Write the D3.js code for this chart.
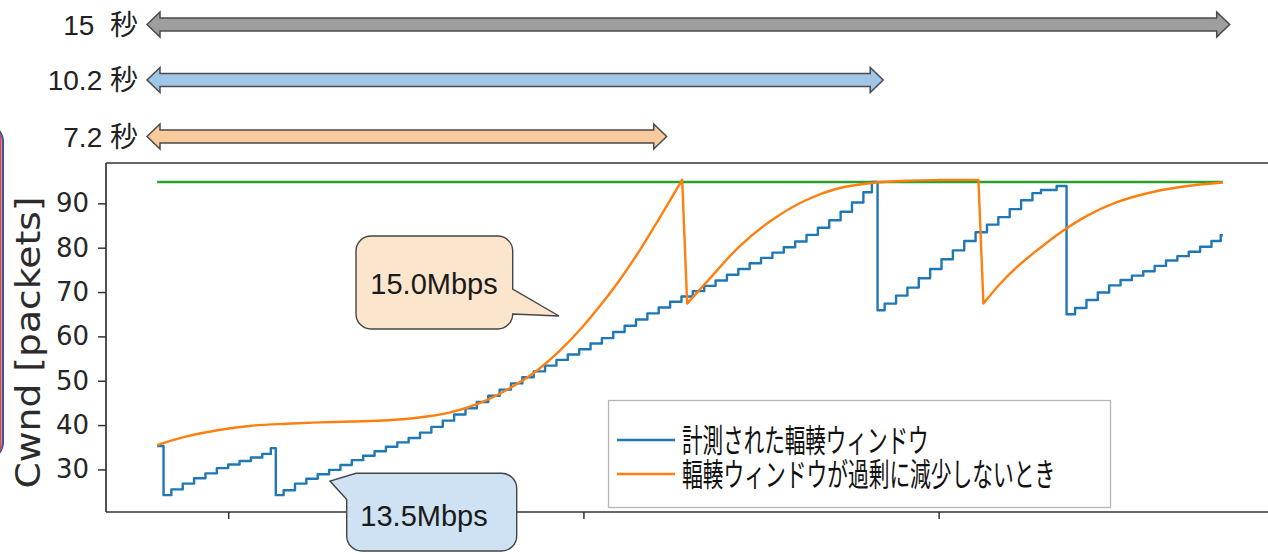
<!DOCTYPE html>
<html>
<head>
<meta charset="utf-8">
<script src="https://cdn.jsdelivr.net/npm/d3@7"></script>
<style>
  html, body { margin: 0; padding: 0; background: #fff; }
  svg { display: block; }
  text { white-space: pre; }
</style>
</head>
<body>
<svg id="chart" width="1268" height="554"></svg>
<script>
// ---- data ----------------------------------------------------------
// Span annotations above the plot (seconds)
const spanLabels  = ["15  秒", "10.2 秒", "7.2 秒"];
const spanSeconds = [15, 10.2, 7.2];

// Axis ticks
const yTicks = [30, 40, 50, 60, 70, 80, 90];
const xTicks = [5, 10, 15];

// Legend entries
const legendLabels = ["計測された輻輳ウィンドウ", "輻輳ウィンドウが過剰に減少しないとき"];

// Callout texts
const calloutTexts = ["15.0Mbps", "13.5Mbps"];

// Measured congestion window: [time s, cwnd packets], one pair per step
const measuredCwnd = [
  [4.00, 35.3], [4.09, 24.2], [4.20, 25.5], [4.36, 26.8], [4.52, 28.0], [4.68, 29.1],
  [4.84, 30.3], [5.00, 31.1], [5.16, 31.9], [5.32, 32.7], [5.48, 33.5], [5.60, 34.8],
  [5.67, 24.2], [5.78, 25.3], [5.94, 26.8], [6.10, 27.9], [6.26, 28.9], [6.42, 29.9],
  [6.58, 31.0], [6.74, 32.1], [6.90, 33.1], [7.06, 34.1], [7.22, 35.1], [7.38, 36.1],
  [7.54, 37.1], [7.70, 38.3], [7.86, 39.6], [8.02, 41.0], [8.18, 42.4], [8.34, 43.8],
  [8.50, 45.2], [8.66, 46.6], [8.82, 48.0], [8.98, 49.4], [9.14, 50.8], [9.30, 52.1],
  [9.46, 53.4], [9.62, 54.7], [9.78, 55.9], [9.94, 57.1], [10.10, 58.4], [10.26, 59.6],
  [10.42, 61.0], [10.58, 62.4], [10.74, 63.8], [10.90, 65.2], [11.06, 66.5], [11.22, 67.8],
  [11.38, 69.0], [11.54, 70.2], [11.70, 71.4], [11.86, 72.6], [12.02, 73.9], [12.18, 75.2],
  [12.34, 76.5], [12.50, 77.7], [12.66, 78.9], [12.82, 80.1], [12.98, 81.4], [13.14, 82.9],
  [13.30, 84.5], [13.46, 86.2], [13.62, 88.1], [13.78, 90.2], [13.94, 92.5], [14.06, 94.8],
  [14.14, 65.9], [14.24, 67.4], [14.40, 69.2], [14.56, 71.0], [14.72, 73.1], [14.88, 75.2],
  [15.04, 77.4], [15.20, 79.4], [15.36, 81.5], [15.52, 83.5], [15.68, 85.2], [15.84, 86.9],
  [16.00, 88.7], [16.16, 90.7], [16.32, 92.3], [16.44, 93.0], [16.66, 93.9],
  [16.80, 65.0], [16.92, 66.4], [17.08, 68.2], [17.24, 69.9], [17.40, 71.5], [17.56, 72.7],
  [17.72, 73.7], [17.88, 74.7], [18.04, 75.9], [18.20, 77.1], [18.36, 78.1], [18.52, 79.1],
  [18.68, 80.2], [18.84, 81.5], [18.97, 82.8], [19.00, 82.8]
];

// Window without excessive reduction: [time s, cwnd packets]
const idealCwnd = [
  [4.00, 35.5], [4.40, 37.4], [4.87, 38.9], [5.30, 39.8], [5.82, 40.3], [6.28, 40.6],
  [6.74, 40.8], [7.26, 41.1], [7.69, 41.7], [8.11, 42.8], [8.53, 44.9], [8.95, 48.2],
  [9.37, 52.6], [9.65, 56.5], [9.98, 62.0], [10.22, 66.6], [10.50, 72.5], [10.78, 79.1],
  [11.06, 86.4], [11.39, 95.3],
  [11.46, 67.4], [11.72, 72.0], [12.19, 80.2], [12.65, 86.2], [13.13, 90.7], [13.59, 93.4],
  [14.06, 94.6], [14.53, 95.1], [15.00, 95.25], [15.56, 95.3],
  [15.63, 67.4], [15.85, 71.6], [16.10, 75.6], [16.40, 79.6], [16.73, 83.6], [17.10, 87.3],
  [17.50, 90.2], [18.00, 92.5], [18.50, 93.9], [19.00, 94.7]
];

// Link capacity (packets)
const capacityCwnd = [[4.00, 94.8], [19.00, 94.8]];

// ---- drawing -------------------------------------------------------
const svg = d3.select("#chart");
svg.append("rect").attr("width", 1268).attr("height", 554).attr("fill", "#fff");

const plot = { left: 106, top: 163, bottom: 512, right: 1274 };
const x = d3.scaleLinear().domain([3.28, 19.72]).range([plot.left, plot.right]);
const y = d3.scaleLinear().domain([20.4, 99.1]).range([plot.bottom, plot.top]);

const axisColor = "#333";
const tickFont = "'DejaVu Sans', sans-serif";

// Edge of a neighbouring shape on the left margin
svg.append("rect")
  .attr("x", -200).attr("y", 124).attr("width", 203).attr("height", 336)
  .attr("rx", 18).attr("fill", "none")
  .attr("stroke", "#3355a0").attr("stroke-width", 2);
svg.append("line")
  .attr("x1", 0.8).attr("x2", 0.8).attr("y1", 135).attr("y2", 450)
  .attr("stroke", "#d94848").attr("stroke-width", 1.6);

// Span arrows
const spanScale = d3.scaleLinear().domain([0, 15]).range([147, 147 + 15 * 72.18]);
const spanStyles = [
  { fill: "#9e9e9e", cy: 24.5 },
  { fill: "#9fc5e8", cy: 80 },
  { fill: "#f9cb9c", cy: 136.5 }
];
function doubleArrow(x0, x1, cy) {
  const hl = 13, hh = 12.5, sh = 6.5;
  return `M${x0},${cy} L${x0 + hl},${cy - hh} L${x0 + hl},${cy - sh} L${x1 - hl},${cy - sh}` +
         ` L${x1 - hl},${cy - hh} L${x1},${cy} L${x1 - hl},${cy + hh} L${x1 - hl},${cy + sh}` +
         ` L${x0 + hl},${cy + sh} L${x0 + hl},${cy + hh} Z`;
}
const spans = svg.append("g");
spanSeconds.forEach((s, i) => {
  const st = spanStyles[i];
  spans.append("path")
    .attr("d", doubleArrow(spanScale(0), spanScale(s), st.cy))
    .attr("fill", st.fill).attr("stroke", "#4a4a4a").attr("stroke-width", 1.5)
    .attr("stroke-linejoin", "miter");
  spans.append("text")
    .attr("x", 138).attr("y", st.cy + 10)
    .attr("text-anchor", "end")
    .attr("font-family", "'Liberation Sans', Arial, 'Noto Sans CJK JP', sans-serif")
    .attr("font-size", 28).attr("fill", "#222")
    .text(spanLabels[i]);
});

// Spines
const spines = svg.append("g").attr("stroke", axisColor).attr("stroke-width", 1.7).attr("fill", "none");
spines.append("line").attr("x1", plot.left).attr("x2", plot.left).attr("y1", plot.top).attr("y2", plot.bottom);
spines.append("line").attr("x1", plot.left).attr("x2", 1268).attr("y1", plot.top).attr("y2", plot.top);
spines.append("line").attr("x1", plot.left).attr("x2", 1268).attr("y1", plot.bottom).attr("y2", plot.bottom);

// Y axis
const yAxis = svg.append("g")
  .attr("transform", `translate(${plot.left},0)`)
  .call(d3.axisLeft(y).tickValues(yTicks).tickSize(8).tickPadding(9).tickFormat(d3.format("d")));
yAxis.select(".domain").remove();
yAxis.selectAll(".tick line").attr("stroke", axisColor).attr("stroke-width", 1.5);
yAxis.selectAll(".tick text")
  .attr("font-family", tickFont).attr("font-size", 26).attr("fill", "#262626");

// X axis (ticks only)
const xAxis = svg.append("g")
  .attr("transform", `translate(0,${plot.bottom})`)
  .call(d3.axisBottom(x).tickValues(xTicks).tickSize(7).tickFormat(""));
xAxis.select(".domain").remove();
xAxis.selectAll(".tick line").attr("stroke", axisColor).attr("stroke-width", 1.5);

// Y axis title
svg.append("text")
  .attr("transform", "translate(40,342.5) rotate(-90)")
  .attr("text-anchor", "middle")
  .attr("font-family", tickFont).attr("font-size", 33).attr("fill", "#2b2b2b")
  .attr("textLength", 292).attr("lengthAdjust", "spacingAndGlyphs")
  .text("Cwnd [packets]");

// Series
const line = d3.line().x(d => x(d[0])).y(d => y(d[1]));
svg.append("path").datum(capacityCwnd)
  .attr("d", line).attr("fill", "none").attr("stroke", "#2ca02c").attr("stroke-width", 2.4);
svg.append("path").datum(measuredCwnd)
  .attr("d", d3.line().x(d => x(d[0])).y(d => y(d[1])).curve(d3.curveStepAfter)).attr("fill", "none")
  .attr("stroke", "#1f77b4").attr("stroke-width", 2.4).attr("stroke-linejoin", "round");

// Smooth growth pieces joined by straight reductions
const smooth = d3.line().x(d => x(d[0])).y(d => y(d[1])).curve(d3.curveMonotoneX);
const pieces = [];
idealCwnd.forEach((d, i) => {
  if (i === 0 || d[1] < idealCwnd[i - 1][1] - 10) pieces.push([]);
  pieces[pieces.length - 1].push(d);
});
const idealPath = pieces.map((p, i) => {
  const s = smooth(p);
  return i === 0 ? s : "L" + s.slice(1);
}).join("");
svg.append("path")
  .attr("d", idealPath).attr("fill", "none")
  .attr("stroke", "#ff7f0e").attr("stroke-width", 2.4).attr("stroke-linejoin", "round");

// Legend
const lg = svg.append("g");
lg.append("rect")
  .attr("x", 608.5).attr("y", 400.5).attr("width", 502).attr("height", 107)
  .attr("fill", "#fff").attr("stroke", "#b5b5b5").attr("stroke-width", 1.3);
const legendColors = ["#1f77b4", "#ff7f0e"];
const legendWidths = [246.6, 373.3];
[440, 474].forEach((ly, i) => {
  lg.append("line").attr("x1", 617).attr("x2", 675).attr("y1", ly).attr("y2", ly)
    .attr("stroke", legendColors[i]).attr("stroke-width", 2.4);
  lg.append("text")
    .attr("x", 682).attr("y", ly - 2)
    .attr("dominant-baseline", "central")
    .attr("font-family", "'Noto Sans CJK JP', sans-serif")
    .attr("font-size", 32).attr("fill", "#111")
    .attr("textLength", legendWidths[i]).attr("lengthAdjust", "spacingAndGlyphs")
    .text(legendLabels[i]);
});

// Callouts
function calloutRight(l, t, r, b, rad, ty0, tip, ty1) {
  return `M${l + rad},${t} H${r - rad} A${rad},${rad} 0 0 1 ${r},${t + rad}` +
         ` V${ty0} L${tip[0]},${tip[1]} L${r},${ty1}` +
         ` V${b - rad} A${rad},${rad} 0 0 1 ${r - rad},${b}` +
         ` H${l + rad} A${rad},${rad} 0 0 1 ${l},${b - rad}` +
         ` V${t + rad} A${rad},${rad} 0 0 1 ${l + rad},${t} Z`;
}
function calloutTopLeft(l, t, r, b, rad, ly, tip, tx) {
  return `M${l},${ly} L${tip[0]},${tip[1]} L${tx},${t}` +
         ` H${r - rad} A${rad},${rad} 0 0 1 ${r},${t + rad}` +
         ` V${b - rad} A${rad},${rad} 0 0 1 ${r - rad},${b}` +
         ` H${l + rad} A${rad},${rad} 0 0 1 ${l},${b - rad} Z`;
}
svg.append("path")
  .attr("d", calloutRight(356, 236, 512.7, 329, 15, 289, [559, 316], 314))
  .attr("fill", "#fce5cd").attr("stroke", "#444").attr("stroke-width", 1.4);
svg.append("text")
  .attr("x", 434).attr("y", 293.5).attr("text-anchor", "middle")
  .attr("font-family", "'Liberation Sans', Arial, sans-serif")
  .attr("font-size", 29).attr("fill", "#1a1a1a")
  .text(calloutTexts[0]);

svg.append("path")
  .attr("d", calloutTopLeft(346.7, 473.3, 516.7, 551, 15, 499.5, [330, 481], 356))
  .attr("fill", "#cfe2f3").attr("stroke", "#444").attr("stroke-width", 1.4);
svg.append("text")
  .attr("x", 424).attr("y", 526).attr("text-anchor", "middle")
  .attr("font-family", "'Liberation Sans', Arial, sans-serif")
  .attr("font-size", 29).attr("fill", "#1a1a1a")
  .text(calloutTexts[1]);
</script>
</body>
</html>
